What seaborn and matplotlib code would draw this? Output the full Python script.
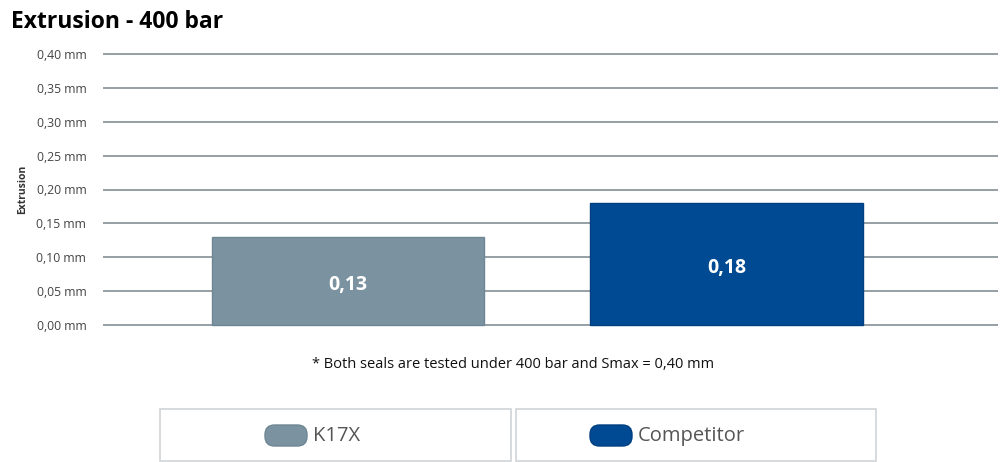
import matplotlib.pyplot as plt
import seaborn as sns
import pandas as pd
from matplotlib.patches import Rectangle, FancyBboxPatch

# data
seals = ["K17X", "Competitor"]
extrusion = [0.13, 0.18]
bar_colors = ["#7b93a1", "#004a93"]
edge_colors = ["#6f8794", "#003f80"]
yticks = [0.00, 0.05, 0.10, 0.15, 0.20, 0.25, 0.30, 0.35, 0.40]
ytick_labels = ["0,00 mm", "0,05 mm", "0,10 mm", "0,15 mm", "0,20 mm",
                "0,25 mm", "0,30 mm", "0,35 mm", "0,40 mm"]
value_labels = ["0,13", "0,18"]

df = pd.DataFrame({"seal": seals, "extrusion": extrusion})

sns.set_theme(style="white")
plt.rcParams["font.family"] = ["Open Sans", "DejaVu Sans"]

fig = plt.figure(figsize=(10, 4.62), dpi=100)
ax = fig.add_axes([0.103, 1 - 326.5 / 462, 0.895, (326.5 - 52.5) / 462])

sns.barplot(data=df, x="seal", y="extrusion", hue="seal", palette=bar_colors,
            saturation=1, width=0.72, legend=False, ax=ax, zorder=3)
for bar, ec in zip(ax.patches, edge_colors):
    bar.set_edgecolor(ec)
    bar.set_linewidth(1)

ylo = -0.4 * 1.5 / 271
yhi = 0.4 + 0.4 * 1.5 / 271
ax.set_ylim(ylo, yhi)
ax.set_xlim(-0.647, 1.717)
ax.set_yticks(yticks)
ax.set_yticklabels(ytick_labels, fontsize=8.8, color="#444444")
ax.tick_params(axis="y", length=0, pad=12)
ax.set_xticks([])
ax.set_xlabel("")
ax.set_ylabel("Extrusion", fontsize=7.5, fontweight="bold", color="#333333", labelpad=6)
ax.yaxis.grid(True, color="#8c979d", linewidth=1.3)
ax.set_axisbelow(True)
for s in ax.spines.values():
    s.set_visible(False)

# value labels, a little below the bar middle
for i, (v, lab) in enumerate(zip(extrusion, value_labels)):
    ax.annotate(lab, (i, v / 2), xytext=(0, -3), textcoords="offset points",
                ha="center", va="center", color="white", fontsize=14, fontweight="bold")

fig.text(0.011, 0.953, "Extrusion - 400 bar", fontsize=16.5, fontweight="bold",
         color="black", ha="left", va="center")
fig.text(0.513, 1 - 364 / 462, "* Both seals are tested under 400 bar and Smax = 0,40 mm",
         fontsize=10.5, color="#111111", ha="center", va="center")

# legend boxes
boxes = [(160, 511), (516, 876)]
patch_x = [265, 590]
for (x0, x1), px, name, col, ec in zip(boxes, patch_x, seals, bar_colors, edge_colors):
    fig.patches.append(Rectangle((x0 / 1000, 1 - 461 / 462), (x1 - x0) / 1000, 52 / 462,
                                 transform=fig.transFigure, facecolor="white",
                                 edgecolor="#cfd4d7", linewidth=1.2))
    fig.patches.append(FancyBboxPatch((px / 1000, 1 - 446 / 462),
                                      0.042, 21 / 462,
                                      boxstyle="round,pad=0,rounding_size=0.0095",
                                      mutation_aspect=1000 / 462,
                                      transform=fig.transFigure, facecolor=col,
                                      edgecolor=ec, linewidth=1))
    fig.text((px + 48) / 1000, 1 - 436 / 462, name, fontsize=14.5, color="#555555",
             ha="left", va="center")

fig.savefig("out.png", dpi=100)
